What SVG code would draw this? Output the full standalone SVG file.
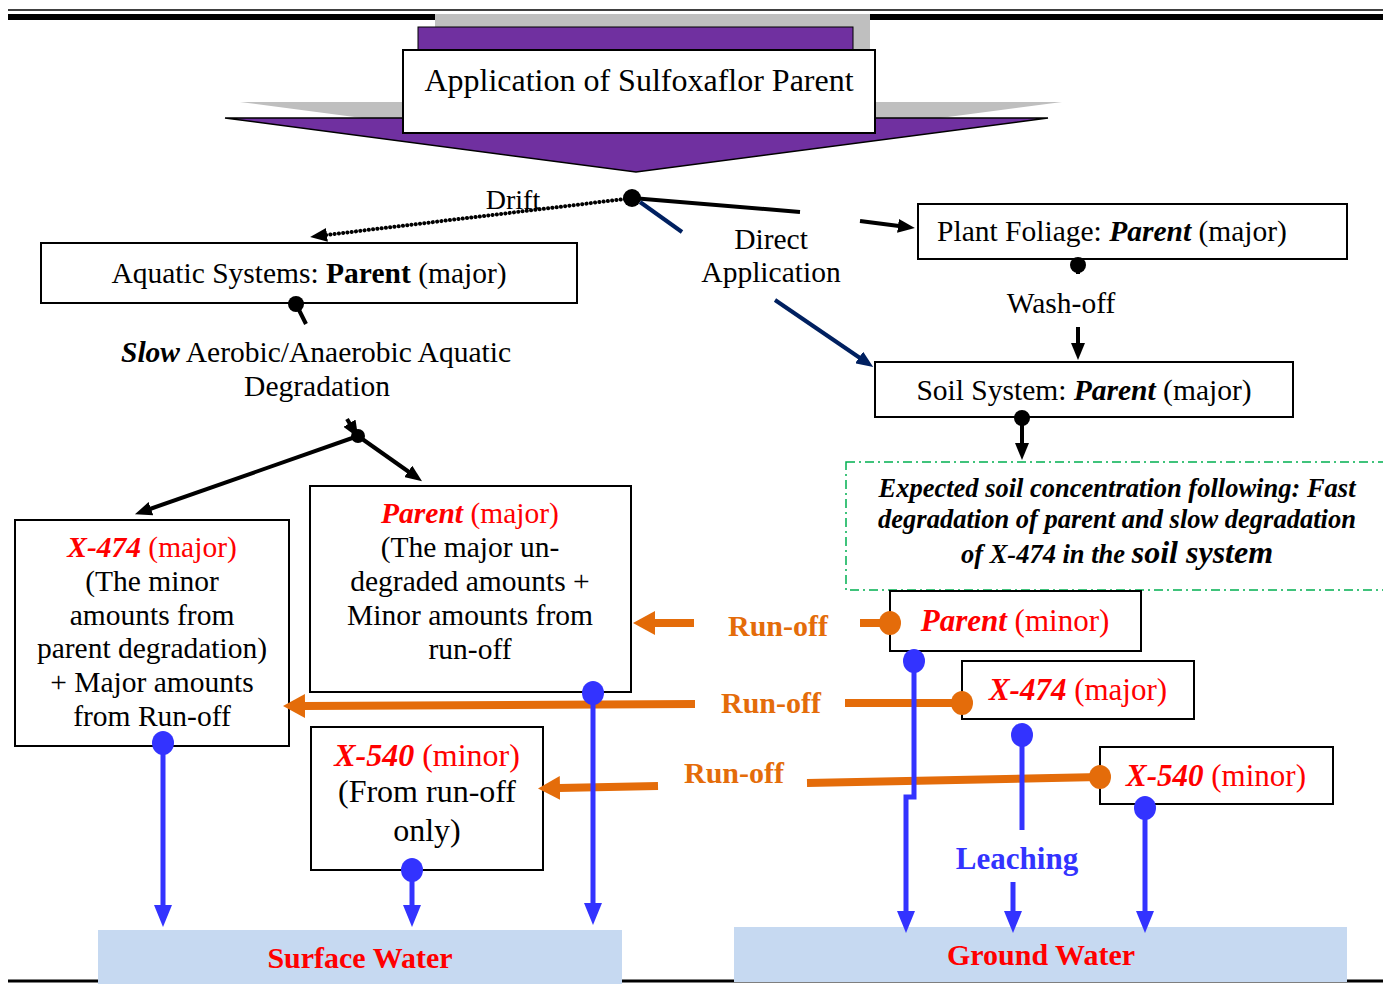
<svg xmlns="http://www.w3.org/2000/svg" width="1383" height="984" viewBox="0 0 1383 984">
<style>
text{font-family:"Liberation Serif","Times New Roman",serif;font-size:29.5px;fill:#000;text-anchor:middle}
.box{fill:#fff;stroke:#000;stroke-width:2}
.red{fill:#FF0000}
.bi{font-weight:bold;font-style:italic}
.b{font-weight:bold}
.or{fill:#E46C0A;font-weight:bold;font-size:30px}
.bl{fill:#3333FF;font-weight:bold}
.water{fill:#C6D9F1}
.kl{stroke:#000;stroke-width:4;fill:none}
.nl{stroke:#002060;stroke-width:4;fill:none}
.ol{stroke:#E46C0A;stroke-width:8;fill:none}
.bll{stroke:#3333FF;stroke-width:5;fill:none}
.rb{font-size:31px}
.note{font-weight:bold;font-style:italic;font-size:26.5px}
</style>
<defs>
<marker id="aK" markerUnits="userSpaceOnUse" markerWidth="17" markerHeight="14" refX="1" refY="7" orient="auto"><path d="M0,0 L17,7 L0,14 z" fill="#000"/></marker>
<marker id="aN" markerUnits="userSpaceOnUse" markerWidth="17" markerHeight="14" refX="1" refY="7" orient="auto"><path d="M0,0 L17,7 L0,14 z" fill="#002060"/></marker>
<marker id="aB" markerUnits="userSpaceOnUse" markerWidth="22" markerHeight="18" refX="1" refY="9" orient="auto"><path d="M0,0 L22,9 L0,18 z" fill="#3333FF"/></marker>
<marker id="aO" markerUnits="userSpaceOnUse" markerWidth="22" markerHeight="24" refX="1" refY="12" orient="auto"><path d="M0,0 L22,12 L0,24 z" fill="#E46C0A"/></marker>
</defs>

<!-- page rules -->
<line x1="8" y1="10" x2="1383" y2="10" stroke="#000" stroke-width="1.5"/>
<line x1="8" y1="17" x2="1383" y2="17" stroke="#000" stroke-width="6"/>
<line x1="8" y1="981" x2="1383" y2="981" stroke="#000" stroke-width="3"/>

<g id="application">
<rect x="435" y="14" width="435" height="96" fill="#BFBFBF"/>
<polygon points="240,102 1062,102 651,156" fill="#BFBFBF"/>
<rect x="418" y="27" width="435" height="92" fill="#7030A0" stroke="#000" stroke-width="1"/>
<polygon points="225,118 1048,118 636,172" fill="#7030A0" stroke="#000" stroke-width="1.5"/>
<rect class="box" x="403" y="50" width="472" height="83"/>
<text x="639" y="91" style="font-size:32px">Application of Sulfoxaflor Parent</text>
</g>

<g id="aquatic">
<rect class="box" x="41" y="243" width="536" height="60"/>
<text x="309" y="283">Aquatic Systems: <tspan class="b">Parent</tspan> (major)</text>
</g>

<g id="plant">
<rect class="box" x="918" y="204" width="429" height="55"/>
<text x="1112" y="241">Plant Foliage: <tspan class="bi">Parent</tspan> (major)</text>
</g>

<g id="soil">
<rect class="box" x="875" y="362" width="418" height="55"/>
<text x="1084" y="400">Soil System: <tspan class="bi">Parent</tspan> (major)</text>
</g>

<g id="soil-note">
<rect x="846" y="462" width="560" height="128" fill="none" stroke="#00B050" stroke-width="1.5" stroke-dasharray="9,4,2,4"/>
<text class="note" x="1117" y="497">Expected soil concentration following: Fast</text>
<text class="note" x="1117" y="528">degradation of parent and slow degradation</text>
<text class="note" x="1117" y="563">of X-474 in the <tspan style="font-size:32px">soil system</tspan></text>
</g>

<g id="x474-surface">
<rect class="box" x="15" y="520" width="274" height="226"/>
<text x="152" y="557" class="red"><tspan class="bi">X-474</tspan> (major)</text>
<text x="152" y="591">(The minor</text>
<text x="152" y="625">amounts from</text>
<text x="152" y="658">parent degradation)</text>
<text x="152" y="692">+ Major amounts</text>
<text x="152" y="726">from Run-off</text>
</g>

<g id="parent-surface">
<rect class="box" x="310" y="486" width="321" height="206"/>
<text x="470" y="523" class="red"><tspan class="bi">Parent</tspan> (major)</text>
<text x="470" y="557">(The major un-</text>
<text x="470" y="591">degraded amounts +</text>
<text x="470" y="625">Minor amounts from</text>
<text x="470" y="659">run-off</text>
</g>

<g id="x540-surface">
<rect class="box" x="311" y="727" width="232" height="143"/>
<text x="427" y="766" class="red" style="font-size:32px"><tspan class="bi">X-540</tspan> (minor)</text>
<text x="427" y="802" style="font-size:32px">(From run-off</text>
<text x="427" y="841" style="font-size:32px">only)</text>
</g>

<g id="parent-soil">
<rect class="box" x="890" y="591" width="251" height="60"/>
<text x="1015" y="631" class="red rb"><tspan class="bi">Parent</tspan> (minor)</text>
</g>

<g id="x474-soil">
<rect class="box" x="962" y="661" width="232" height="58"/>
<text x="1078" y="700" class="red rb"><tspan class="bi">X-474</tspan> (major)</text>
</g>

<g id="x540-soil">
<rect class="box" x="1100" y="747" width="233" height="57"/>
<text x="1216" y="786" class="red rb"><tspan class="bi">X-540</tspan> (minor)</text>
</g>

<g id="surface-water">
<rect class="water" x="98" y="930" width="524" height="54"/>
<text x="360" y="968" class="red b" style="font-size:30px">Surface Water</text>
</g>

<g id="ground-water">
<rect class="water" x="734" y="927" width="613" height="55"/>
<text x="1041" y="965" class="red b" style="font-size:30px">Ground Water</text>
</g>

<g id="connectors">
<!-- drift -->
<line x1="625" y1="199" x2="326" y2="235" stroke="#000" stroke-width="4" stroke-linecap="round" stroke-dasharray="0.1,4.2" marker-end="url(#aK)"/>
<text x="513" y="209" style="font-size:28px">Drift</text>
<!-- direct application -->
<line class="kl" x1="632" y1="198" x2="800" y2="212"/>
<line class="kl" x1="860" y1="221" x2="899" y2="226" marker-end="url(#aK)"/>
<line class="nl" x1="640" y1="202" x2="682" y2="232"/>
<line class="nl" x1="775" y1="300" x2="860" y2="358" marker-end="url(#aN)"/>
<circle cx="632" cy="198" r="9" fill="#000"/>
<text x="771" y="249">Direct</text>
<text x="771" y="282">Application</text>
<!-- wash-off -->
<line class="kl" x1="1078" y1="265" x2="1078" y2="274"/>
<circle cx="1078" cy="265" r="8" fill="#000"/>
<text x="1061" y="313">Wash-off</text>
<line class="kl" x1="1078" y1="327" x2="1078" y2="344" marker-end="url(#aK)"/>
<!-- soil to note -->
<line class="kl" x1="1022" y1="418" x2="1022" y2="444" marker-end="url(#aK)"/>
<circle cx="1022" cy="418" r="8" fill="#000"/>
<!-- aquatic degradation -->
<line class="kl" x1="296" y1="304" x2="306" y2="324"/>
<circle cx="296" cy="304" r="8" fill="#000"/>
<text x="316" y="362"><tspan class="bi">Slow</tspan> Aerobic/Anaerobic Aquatic</text>
<text x="317" y="396">Degradation</text>
<line class="kl" x1="347" y1="419" x2="350" y2="424" marker-end="url(#aK)"/>
<line class="kl" x1="358" y1="436" x2="150" y2="509" marker-end="url(#aK)"/>
<line class="kl" x1="358" y1="436" x2="409" y2="472" marker-end="url(#aK)"/>
<circle cx="358" cy="436" r="7" fill="#000"/>
<!-- run-off -->
<line class="ol" x1="860" y1="623" x2="890" y2="623"/>
<ellipse cx="890" cy="623" rx="11" ry="12" fill="#E46C0A"/>
<text class="or" x="778" y="636">Run-off</text>
<line class="ol" x1="694" y1="623" x2="654" y2="623" marker-end="url(#aO)"/>
<line class="ol" x1="845" y1="703" x2="962" y2="703"/>
<ellipse cx="962" cy="703" rx="11" ry="12" fill="#E46C0A"/>
<text class="or" x="771" y="713">Run-off</text>
<line class="ol" x1="695" y1="704" x2="304" y2="706" marker-end="url(#aO)"/>
<line class="ol" x1="807" y1="783" x2="1100" y2="777"/>
<ellipse cx="1100" cy="777" rx="11" ry="12" fill="#E46C0A"/>
<text class="or" x="734" y="783">Run-off</text>
<line class="ol" x1="658" y1="786" x2="559" y2="788" marker-end="url(#aO)"/>
<!-- leaching / to water -->
<line class="bll" x1="163" y1="743" x2="163" y2="906" marker-end="url(#aB)"/>
<ellipse cx="163" cy="743" rx="11" ry="12" fill="#3333FF"/>
<line class="bll" x1="412" y1="870" x2="412" y2="906" marker-end="url(#aB)"/>
<ellipse cx="412" cy="870" rx="11" ry="12" fill="#3333FF"/>
<line class="bll" x1="593" y1="693" x2="593" y2="904" marker-end="url(#aB)"/>
<ellipse cx="593" cy="693" rx="11" ry="12" fill="#3333FF"/>
<polyline class="bll" points="914,661 914,797 906,797 906,912" marker-end="url(#aB)"/>
<ellipse cx="914" cy="661" rx="11" ry="12" fill="#3333FF"/>
<line class="bll" x1="1022" y1="735" x2="1022" y2="830"/>
<ellipse cx="1022" cy="735" rx="11" ry="12" fill="#3333FF"/>
<text class="bl" x="1017" y="869" style="font-size:31px">Leaching</text>
<line class="bll" x1="1013" y1="882" x2="1013" y2="912" marker-end="url(#aB)"/>
<line class="bll" x1="1145" y1="808" x2="1145" y2="912" marker-end="url(#aB)"/>
<ellipse cx="1145" cy="808" rx="11" ry="12" fill="#3333FF"/>
</g>
</svg>
